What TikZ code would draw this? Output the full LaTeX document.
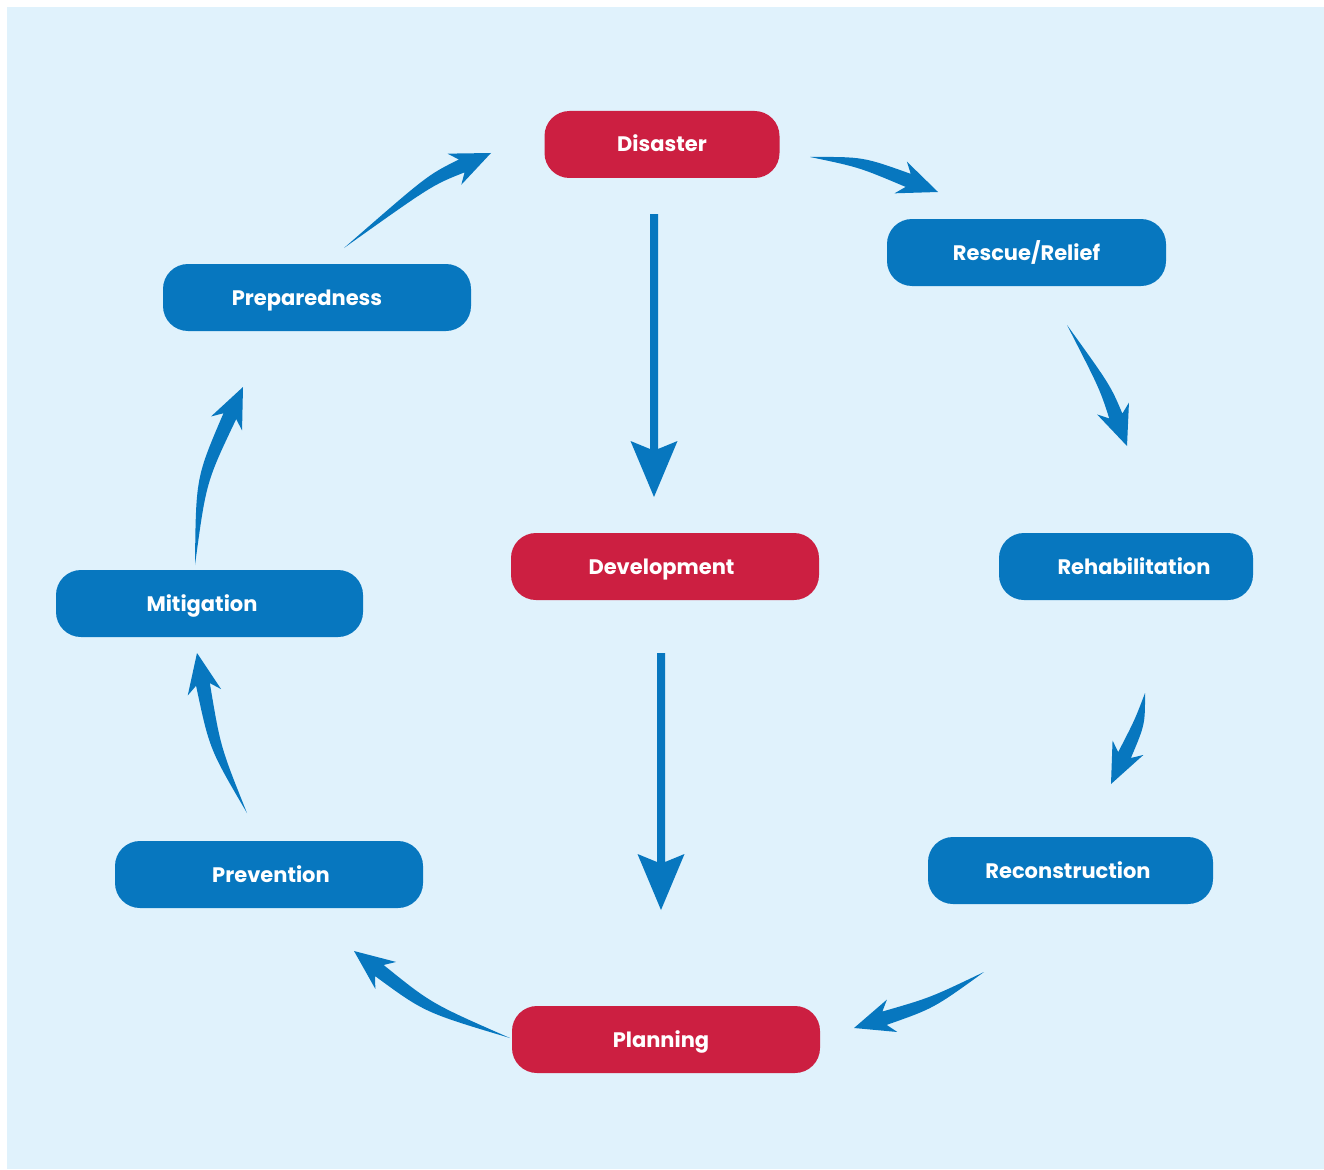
\documentclass[tikz,border=0pt]{standalone}
\usepackage{fontspec}
\setmainfont{Poppins}
\usetikzlibrary{calc}
\definecolor{cblue}{RGB}{7,119,191}
\definecolor{cred}{RGB}{204,31,65}
\definecolor{cbg}{RGB}{224,242,252}
\tikzset{
  box/.style={rounded corners=25pt, minimum height=67pt, text=white, inner sep=0pt,
    text height=15pt, text depth=0pt,
    font=\bfseries\fontsize{21}{24}\selectfont},
  bluebox/.style={box, fill=cblue},
  redbox/.style={box, fill=cred},
  arrowfill/.style={fill=cblue}
}
% tapered curved arrow: tail, ctrl, tip, head length, head half width, notch, body half width
\newcommand\tarrow[7]{%
  \coordinate (hb) at ($(#3)!#4!(#2)$);
  \coordinate (nb) at ($(#3)!#4-#6!(#2)$);
  \fill[arrowfill] (#1) .. controls ($(#2)!#7*0.8!90:(#3)$) .. ($(nb)!#7!90:(#3)$)
    -- ($(hb)!#5!90:(#3)$) -- (#3) -- ($(hb)!#5!-90:(#3)$) -- ($(nb)!#7!-90:(#3)$)
    .. controls ($(#2)!#7*0.8!-90:(#3)$) .. (#1) -- cycle;
}
% straight arrow: start, tip
\newcommand\sarrow[2]{%
  \coordinate (hb) at ($(#2)!56pt!(#1)$);
  \coordinate (nb) at ($(#2)!48pt!(#1)$);
  \fill[arrowfill] ($(#1)!4pt!90:(#2)$) -- ($(nb)!4pt!90:(#2)$) -- ($(hb)!23.5pt!90:(#2)$)
    -- (#2) -- ($(hb)!23.5pt!-90:(#2)$) -- ($(nb)!4pt!-90:(#2)$) -- ($(#1)!4pt!-90:(#2)$) -- cycle;
}
\begin{document}
\begin{tikzpicture}[x=1pt,y=-1pt]
\useasboundingbox (0,0) rectangle (1324,1169);
\fill[cbg] (7,7) rectangle (1324,1169);

\node[redbox, minimum width=235pt] (dis) at (662,144.5) {Disaster};
\node[bluebox, minimum width=279pt] (res) at (1026.5,252.5) {Rescue/Relief};
\node[bluebox, minimum width=308pt] (pre) at (317,297.5) {\hspace*{-20pt}Preparedness};
\node[redbox, minimum width=308pt] (dev) at (665,566.5) {\hspace*{-7pt}Development};
\node[bluebox, minimum width=254pt] (reh) at (1126,566.5) {\hspace*{16pt}Rehabilitation};
\node[bluebox, minimum width=307pt] (mit) at (209.5,603.5) {\hspace*{-15pt}Mitigation};
\node[bluebox, minimum width=308pt] (prv) at (269,874.5) {\hspace*{4pt}Prevention};
\node[bluebox, minimum width=285pt] (rec) at (1070.5,870.5) {\hspace*{-5pt}Reconstruction};
\node[redbox, minimum width=308pt] (pla) at (666,1039.5) {\hspace*{-10pt}Planning};

% arrow coordinates
\coordinate (a1t) at (810,157);  \coordinate (a1c) at (861,162);  \coordinate (a1h) at (938,192);
\coordinate (a2t) at (1067,325); \coordinate (a2c) at (1105,387); \coordinate (a2h) at (1127,446);
\coordinate (a3t) at (1145,693); \coordinate (a3c) at (1140,722); \coordinate (a3h) at (1111,784);
\coordinate (a4t) at (984,972);  \coordinate (a4c) at (932,1003); \coordinate (a4h) at (854,1028);
\coordinate (a5t) at (510,1038); \coordinate (a5c) at (428,1008); \coordinate (a5h) at (354,951);
\coordinate (a6t) at (247,813);  \coordinate (a6c) at (215,748);  \coordinate (a6h) at (197,653);
\coordinate (a7t) at (195,565);  \coordinate (a7c) at (201,480);  \coordinate (a7h) at (243,387);
\coordinate (a8t) at (344,248);  \coordinate (a8c) at (430,180);  \coordinate (a8h) at (491,153);
\coordinate (s1t) at (654,214);  \coordinate (s1h) at (654,497);
\coordinate (s2t) at (661,653);  \coordinate (s2h) at (661,910);

\tarrow{a1t}{a1c}{a1h}{40pt}{17pt}{8pt}{7pt}
\tarrow{a2t}{a2c}{a2h}{40pt}{17pt}{8pt}{7pt}
\tarrow{a3t}{a3c}{a3h}{40pt}{17pt}{8pt}{7pt}
\tarrow{a4t}{a4c}{a4h}{40pt}{17pt}{8pt}{7pt}
\tarrow{a5t}{a5c}{a5h}{40pt}{17pt}{8pt}{7pt}
\tarrow{a6t}{a6c}{a6h}{40pt}{17pt}{8pt}{7pt}
\tarrow{a7t}{a7c}{a7h}{40pt}{17pt}{8pt}{7pt}
\tarrow{a8t}{a8c}{a8h}{40pt}{17pt}{8pt}{7pt}
\sarrow{s1t}{s1h}
\sarrow{s2t}{s2h}
\end{tikzpicture}
\end{document}
